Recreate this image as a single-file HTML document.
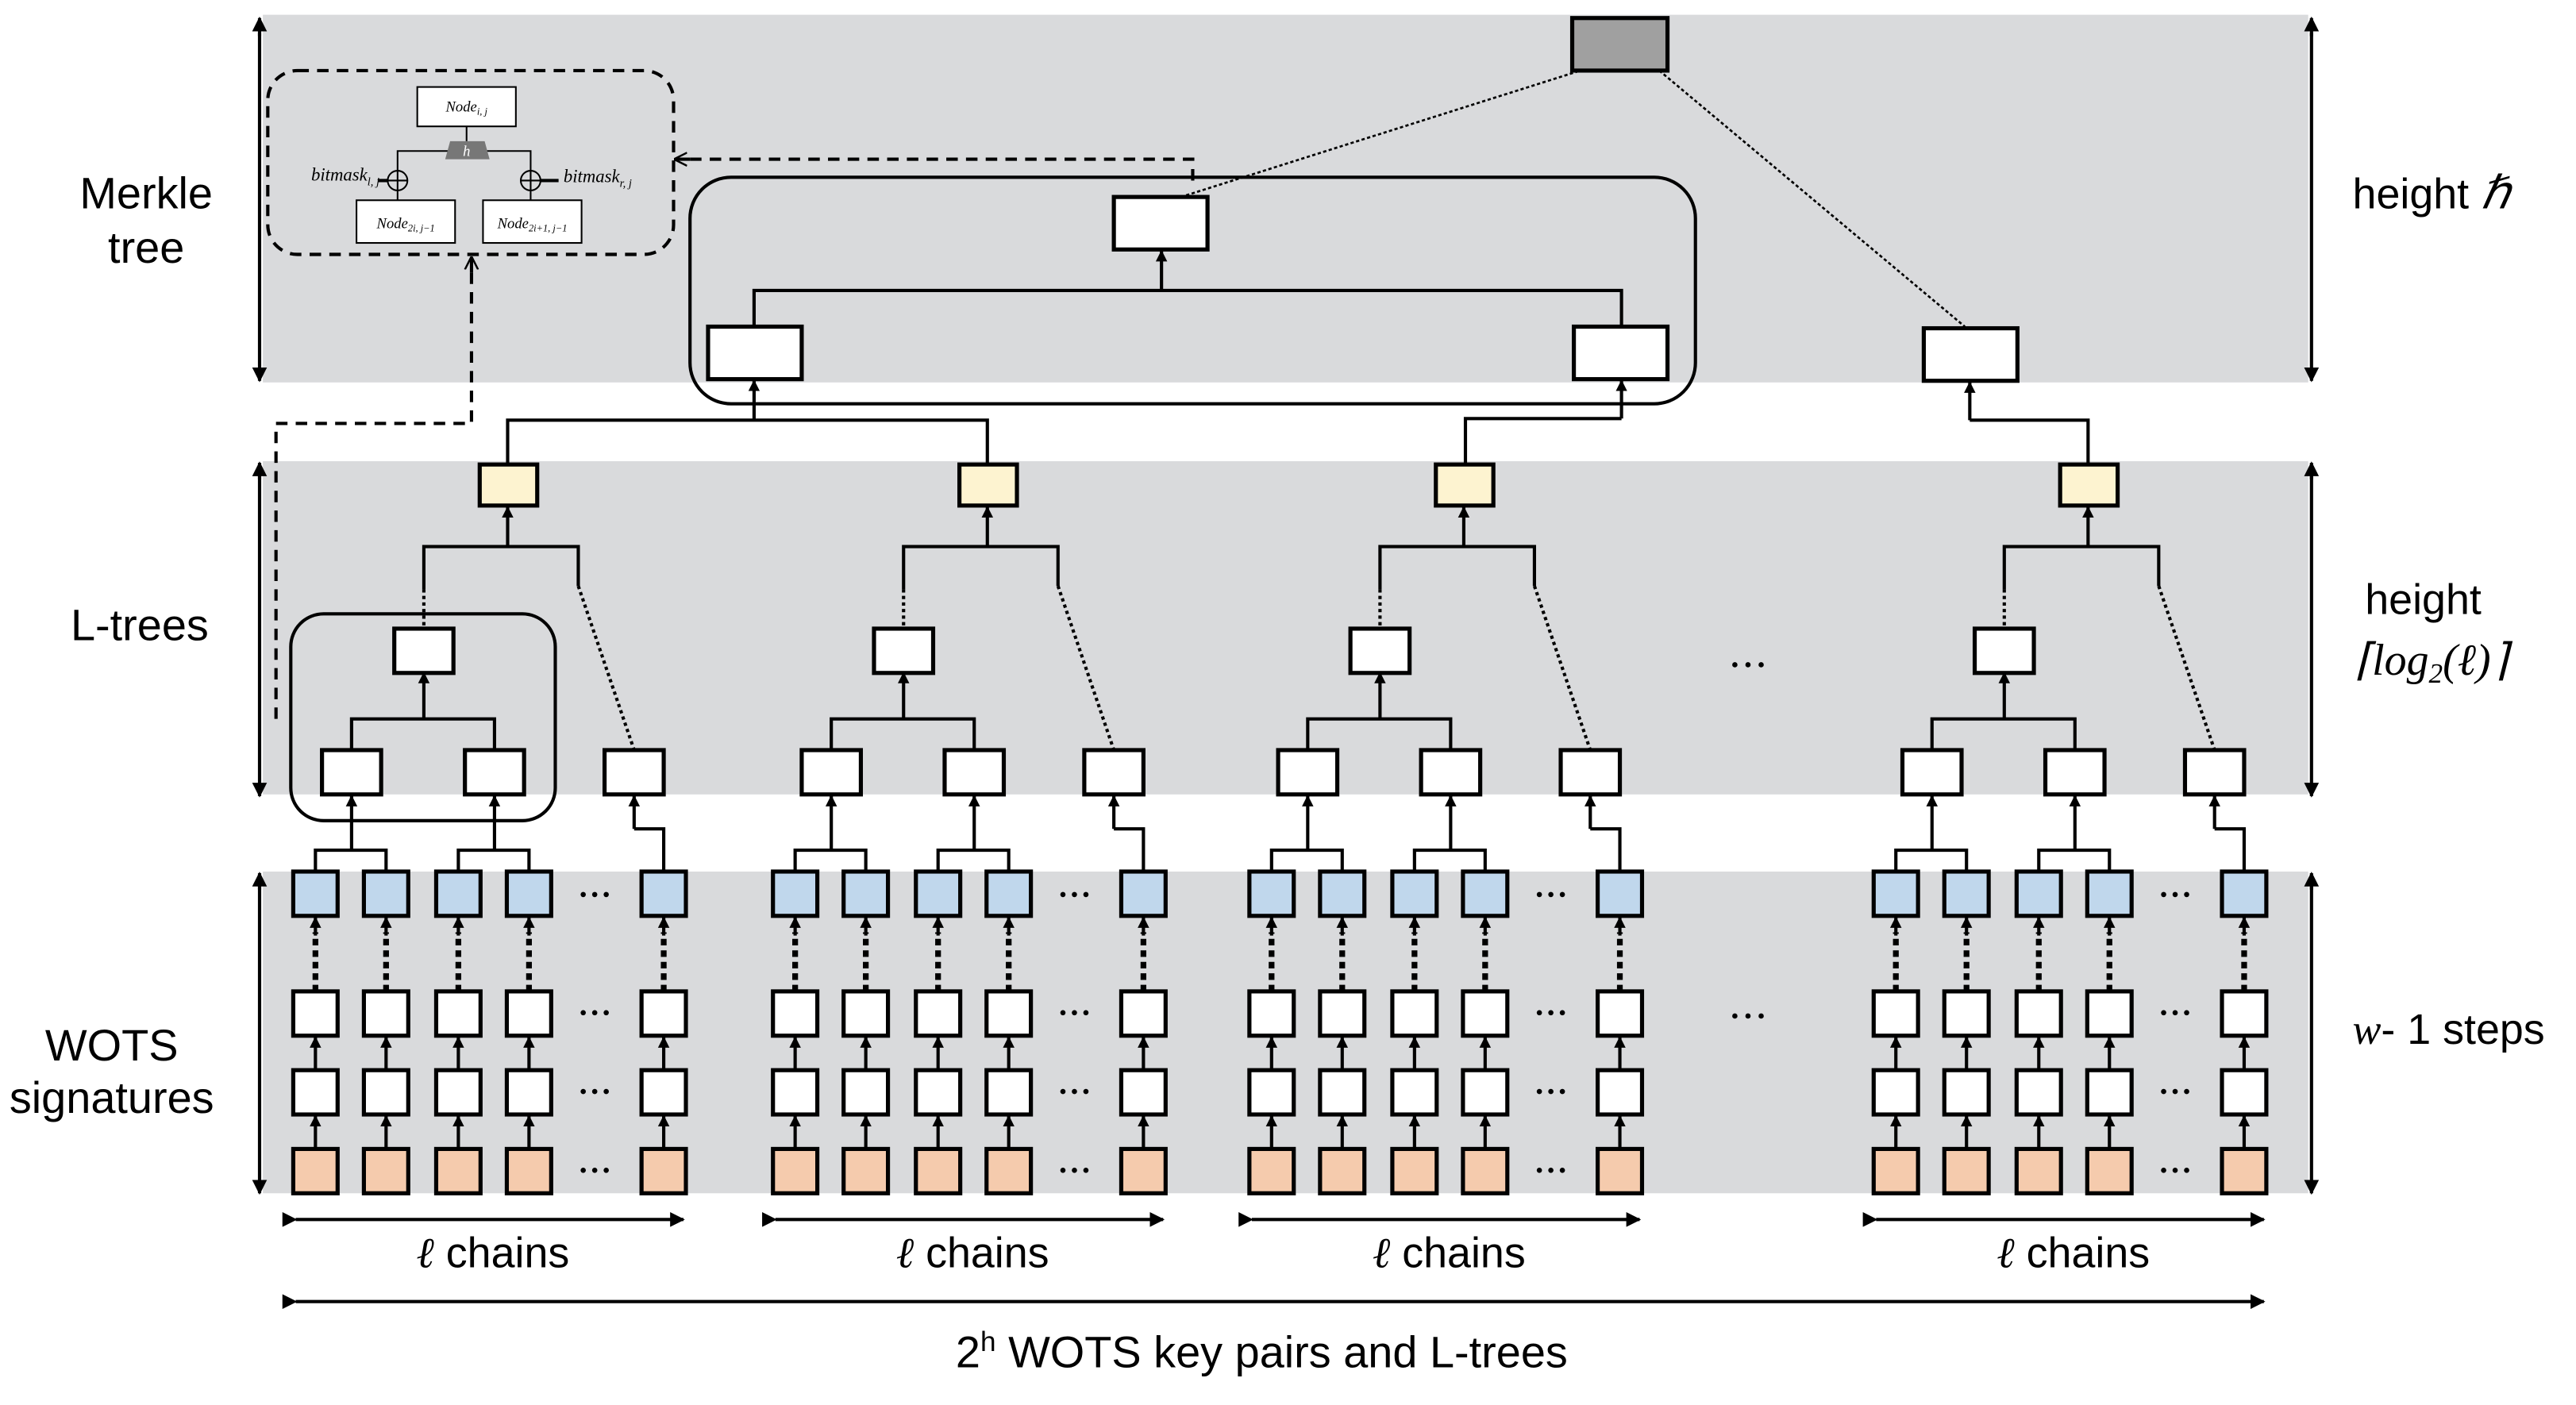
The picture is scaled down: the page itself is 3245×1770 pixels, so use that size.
<!DOCTYPE html>
<html><head><meta charset="utf-8"><style>
html,body{margin:0;padding:0;background:#fff}
svg{display:block}
text{font-family:"Liberation Sans",sans-serif;fill:#000}
.m{font-family:"Liberation Serif",serif;font-style:italic}
</style></head><body>
<svg width="3245" height="1770" viewBox="0 0 1568 856" preserveAspectRatio="none" xmlns="http://www.w3.org/2000/svg">
<defs>
<marker id="a" viewBox="0 0 10 10" refX="9" refY="5" markerWidth="7" markerHeight="8" orient="auto" markerUnits="userSpaceOnUse"><path d="M0,0L10,5L0,10z" fill="#000"/></marker>
<marker id="b" viewBox="0 0 10 10" refX="9" refY="5" markerWidth="9" markerHeight="9" orient="auto" markerUnits="userSpaceOnUse"><path d="M0,0L10,5L0,10z" fill="#000"/></marker>
<marker id="o" viewBox="0 0 10 10" refX="9" refY="5" markerWidth="8" markerHeight="10" orient="auto" markerUnits="userSpaceOnUse"><path d="M0,0L10,5L0,10" fill="none" stroke="#000" stroke-width="1.5"/></marker>
<g id="col" stroke="#000" stroke-width="2.5">
<rect x="-13.5" y="531" width="27" height="27" fill="#c0d7ec"/>
<rect x="-13.5" y="604" width="27" height="27" fill="#fff"/>
<rect x="-13.5" y="652" width="27" height="27" fill="#fff"/>
<rect x="-13.5" y="700" width="27" height="27" fill="#f5cbad"/>
<line x1="0" y1="604" x2="0" y2="568" stroke-width="3.5" stroke-dasharray="4,3"/>
<line x1="0" y1="570" x2="0" y2="559" marker-end="url(#a)" stroke-width="2"/>
<line x1="0" y1="652" x2="0" y2="632" marker-end="url(#a)" stroke-width="2"/>
<line x1="0" y1="700" x2="0" y2="680" marker-end="url(#a)" stroke-width="2"/>
</g>
<g id="grp">
<use href="#col" x="192"/><use href="#col" x="235"/><use href="#col" x="279"/><use href="#col" x="322"/><use href="#col" x="404"/>
<g fill="#000"><circle cx="355" cy="545" r="1.6"/><circle cx="362" cy="545" r="1.6"/><circle cx="369" cy="545" r="1.6"/>
<circle cx="355" cy="617" r="1.6"/><circle cx="362" cy="617" r="1.6"/><circle cx="369" cy="617" r="1.6"/>
<circle cx="355" cy="665" r="1.6"/><circle cx="362" cy="665" r="1.6"/><circle cx="369" cy="665" r="1.6"/>
<circle cx="355" cy="713" r="1.6"/><circle cx="362" cy="713" r="1.6"/><circle cx="369" cy="713" r="1.6"/></g>
<g stroke="#000" stroke-width="2" fill="none">
<path d="M192,531V518H235V531M279,531V518H322V531M404,531V505H386"/>
<line x1="214" y1="518" x2="214" y2="485" marker-end="url(#a)"/>
<line x1="301" y1="518" x2="301" y2="485" marker-end="url(#a)"/>
<line x1="386" y1="505" x2="386" y2="485" marker-end="url(#a)"/>
<path d="M214,457V438H301V457"/>
<line x1="258" y1="438" x2="258" y2="410" marker-end="url(#a)"/>
<path d="M258,359V333H352V357"/>
<line x1="258" y1="359" x2="258" y2="383" stroke-dasharray="2,2"/>
<line x1="352" y1="357" x2="386" y2="457" stroke-dasharray="2,2"/>
<line x1="309" y1="333" x2="309" y2="309" marker-end="url(#a)"/>
</g>
<g stroke="#000" stroke-width="2.5" fill="#fff">
<rect x="196" y="457" width="36" height="27"/><rect x="283" y="457" width="36" height="27"/><rect x="368" y="457" width="36" height="27"/>
<rect x="240" y="383" width="36" height="27"/>
<rect x="292" y="283" width="35" height="25" fill="#fdf3d0"/>
</g>
<line x1="180" y1="743" x2="416" y2="743" stroke="#000" stroke-width="2" marker-start="url(#b)" marker-end="url(#b)"/>
<text x="300" y="772" font-size="26" text-anchor="middle"><tspan class="m">ℓ</tspan> chains</text>
</g>
</defs>
<rect x="160" y="9" width="1245" height="224" fill="#d9dadc"/>
<rect x="160" y="281" width="1245" height="203" fill="#d9dadc"/>
<rect x="160" y="531" width="1245" height="196" fill="#d9dadc"/>
<g stroke="#000" stroke-width="2">
<line x1="158" y1="22" x2="158" y2="11" marker-end="url(#b)"/><line x1="158" y1="20" x2="158" y2="232" marker-end="url(#b)"/>
<line x1="158" y1="292" x2="158" y2="282" marker-end="url(#b)"/><line x1="158" y1="290" x2="158" y2="485" marker-end="url(#b)"/>
<line x1="158" y1="542" x2="158" y2="532" marker-end="url(#b)"/><line x1="158" y1="540" x2="158" y2="727" marker-end="url(#b)"/>
<line x1="1407" y1="22" x2="1407" y2="11" marker-end="url(#b)"/><line x1="1407" y1="20" x2="1407" y2="232" marker-end="url(#b)"/>
<line x1="1407" y1="292" x2="1407" y2="282" marker-end="url(#b)"/><line x1="1407" y1="290" x2="1407" y2="485" marker-end="url(#b)"/>
<line x1="1407" y1="542" x2="1407" y2="532" marker-end="url(#b)"/><line x1="1407" y1="540" x2="1407" y2="727" marker-end="url(#b)"/>
</g>
<use href="#grp"/>
<use href="#grp" x="292"/>
<use href="#grp" x="582"/>
<use href="#grp" x="962"/>
<rect x="177" y="374" width="161" height="126" rx="20" fill="none" stroke="#000" stroke-width="2"/>
<g fill="#000"><circle cx="1056" cy="405" r="1.6"/><circle cx="1064" cy="405" r="1.6"/><circle cx="1072" cy="405" r="1.6"/>
<circle cx="1056" cy="619" r="1.6"/><circle cx="1064" cy="619" r="1.6"/><circle cx="1072" cy="619" r="1.6"/></g>
<g stroke="#000" stroke-width="2" fill="none">
<rect x="420" y="108" width="612" height="138" rx="25"/>
<path d="M309,283V256H601V283M892,283V255H987M1271,283V256H1199"/>
<line x1="459" y1="256" x2="459" y2="232" marker-end="url(#a)"/>
<line x1="987" y1="255" x2="987" y2="232" marker-end="url(#a)"/>
<line x1="1199" y1="256" x2="1199" y2="233" marker-end="url(#a)"/>
<path d="M459,199V177H987V199"/>
<line x1="707" y1="177" x2="707" y2="153" marker-end="url(#a)"/>
<line x1="722" y1="119" x2="962" y2="43" stroke-width="1.3" stroke-dasharray="2,1.5"/>
<line x1="1010" y1="43" x2="1196" y2="199" stroke-width="1.3" stroke-dasharray="2,1.5"/>
</g>
<g stroke="#000" stroke-width="2.5" fill="#fff">
<rect x="678" y="120" width="57" height="32"/>
<rect x="431" y="199" width="57" height="32"/><rect x="958" y="199" width="57" height="32"/>
<rect x="1171" y="200" width="57" height="32"/>
<rect x="957" y="11" width="58" height="32" fill="#a0a0a0"/>
</g>
<g stroke="#000" stroke-width="2" fill="none" stroke-dasharray="7,5">
<rect x="163" y="43" width="247" height="112" rx="18"/>
<path d="M726,110V97H418"/>
<path d="M168,438V258H287V165"/>
</g>
<line x1="420" y1="97" x2="411" y2="97" stroke="#000" stroke-width="2" marker-end="url(#o)"/>
<line x1="287" y1="166" x2="287" y2="157" stroke="#000" stroke-width="2" marker-end="url(#o)"/>
<g stroke="#000" stroke-width="1" fill="none">
<rect x="254" y="53" width="60" height="24" fill="#fff"/>
<path d="M284,77V86M242,104V92H323V104"/>
<rect x="217" y="122" width="60" height="26" fill="#fff"/><rect x="294" y="122" width="60" height="26" fill="#fff"/>
<path d="M242,116V122M323,116V122"/>
<circle cx="242" cy="110" r="6"/><line x1="236" y1="110" x2="248" y2="110"/><line x1="242" y1="104" x2="242" y2="116"/>
<circle cx="323" cy="110" r="6"/><line x1="317" y1="110" x2="329" y2="110"/><line x1="323" y1="104" x2="323" y2="116"/>
<line x1="230" y1="110" x2="236" y2="110" stroke-width="2"/><line x1="329" y1="110" x2="340" y2="110" stroke-width="2"/>
</g>
<path d="M274,86H295L298,97H271Z" fill="#777"/>
<text x="284" y="95" font-size="9" class="m" text-anchor="middle" style="fill:#fff">h</text>
<text x="284" y="68" font-size="9" class="m" text-anchor="middle">Node<tspan font-size="6" dy="2">i, j</tspan></text>
<text x="247" y="139" font-size="9" class="m" text-anchor="middle">Node<tspan font-size="6" dy="2">2i, j−1</tspan></text>
<text x="324" y="139" font-size="9" class="m" text-anchor="middle">Node<tspan font-size="6" dy="2">2i+1, j−1</tspan></text>
<text x="231" y="110" font-size="11" class="m" text-anchor="end">bitmask<tspan font-size="7" dy="3">l, j</tspan></text>
<text x="343" y="111" font-size="11" class="m">bitmask<tspan font-size="7" dy="3">r, j</tspan></text>
<text x="89" y="127" font-size="27" text-anchor="middle">Merkle</text>
<text x="89" y="160" font-size="27" text-anchor="middle">tree</text>
<text x="85" y="390" font-size="27" text-anchor="middle">L-trees</text>
<text x="68" y="646" font-size="27" text-anchor="middle">WOTS</text>
<text x="68" y="678" font-size="27" text-anchor="middle">signatures</text>
<text x="1432" y="127" font-size="26">height <tspan class="m" font-size="28">ℏ</tspan></text>
<text x="1475" y="374" font-size="26" text-anchor="middle">height</text>
<text x="1480" y="411" font-size="27" text-anchor="middle" class="m">⌈log<tspan font-size="17" dy="5">2</tspan><tspan dy="-5">(ℓ)⌉</tspan></text>
<text x="1432" y="636" font-size="26"><tspan class="m">w</tspan>- 1  steps</text>
<line x1="180" y1="793" x2="1378" y2="793" stroke="#000" stroke-width="2" marker-start="url(#b)" marker-end="url(#b)"/>
<text x="768" y="833" font-size="27" text-anchor="middle">2<tspan font-size="17" dy="-10">h</tspan><tspan dy="10"> WOTS key pairs and L-trees</tspan></text>
</svg>
</body></html>
